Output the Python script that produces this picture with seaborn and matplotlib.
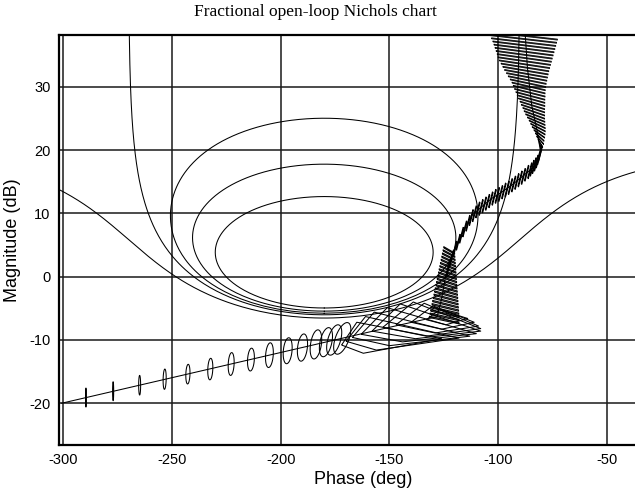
import numpy as np
import pandas as pd
import matplotlib
matplotlib.use("Agg")
import matplotlib.pyplot as plt
import seaborn as sns
from matplotlib.collections import LineCollection

# ---------------- data ----------------
# closed-loop magnitude contours of the Nichols grid (dB)
grid_m_db = [2.3, 1.2, 0.5, 0.0, -1.0]

# nominal open-loop locus (phase deg, magnitude dB)
nom_phase = [-87.5, -86.5, -84.5, -82.0, -80.6, -81.4, -84.4, -89.0, -93.6, -98.2,
             -102.8, -107.4, -112.0, -115.0, -119.6, -122.7, -124.2, -126.0, -128.0,
             -150.0, -300.8]
nom_mag = [38.2, 33.0, 27.0, 23.0, 20.0, 18.4, 17.1, 15.8, 14.5, 13.4,
           12.4, 11.1, 9.7, 7.9, 4.7, 2.1, 0.0, -3.5, -6.3,
           -8.0, -20.0]

# high-frequency templates (ellipses): centre, full width (deg), full height (dB), shear (deg)
a_phase = [-289.6, -277.1, -264.9, -253.4, -242.7, -232.4, -222.8, -213.7, -205.2,
           -196.8, -190.0, -183.8, -179.2, -175.4, -171.7]
a_mag = [-19.1, -18.1, -17.15, -16.2, -15.4, -14.6, -13.8, -13.1, -12.4,
         -11.7, -11.2, -10.7, -10.35, -10.0, -9.75]
a_width = [0.3, 0.5, 0.9, 1.4, 1.9, 2.3, 2.7, 3.1, 3.5, 4.0, 4.5, 5.0, 5.5, 6.0, 6.5]
a_height = [3.0, 3.0, 3.1, 3.2, 3.1, 3.4, 3.6, 3.6, 3.9, 4.1, 4.3, 4.6, 4.6, 4.8, 5.0]
a_shear = [0.0, 0.0, 0.0, 0.2, 0.3, 0.4, 0.5, 0.6, 0.8, 1.0, 1.3, 1.8, 2.5, 3.5, 4.5]

# wide templates (quadrilaterals): left tip, top, right tip, bottom
w_left_p = [-133, -140, -147, -153, -158, -163, -167, -170, -172]
w_left_m = [-6.8, -7.2, -7.6, -8.0, -8.6, -9.1, -9.6, -10.2, -10.8]
w_top_p = [-127, -130, -134, -139, -145, -151, -157, -161, -165]
w_top_m = [-5.2, -4.6, -4.2, -4.0, -4.3, -4.9, -5.6, -6.3, -7.2]
w_right_p = [-114, -111, -109, -108, -108, -110, -113, -118, -126]
w_right_m = [-6.6, -7.2, -7.8, -8.2, -8.6, -9.0, -9.4, -9.7, -9.8]
w_bot_p = [-124, -126, -129, -133, -138, -144, -150, -156, -162]
w_bot_m = [-7.6, -8.3, -8.9, -9.4, -9.8, -10.3, -10.9, -11.6, -12.1]

# column of horizontal slivers (mag, left phase, right phase)
col_mag = [4.0, 3.5, 3.0, 2.5, 2.0, 1.5, 1.0, 0.5, 0.0, -0.5, -1.0, -1.5, -2.0, -2.5,
           -3.0, -3.5, -4.0, -4.5, -5.0, -5.5, -6.0, -6.5, -7.0]
col_left = [-125.0, -125.3, -125.6, -125.9, -126.2, -126.5, -126.8, -127.1, -127.4,
            -127.7, -128.0, -128.3, -128.6, -128.9, -129.2, -129.5, -129.8, -130.1,
            -130.4, -130.7, -131.0, -131.3, -131.6]
col_right = [-120.0, -119.9, -119.8, -119.7, -119.6, -119.5, -119.4, -119.3, -119.2,
             -119.1, -119.0, -118.9, -118.8, -118.7, -118.6, -118.5, -118.4, -118.3,
             -118.2, -118.1, -118.0, -118.0, -118.0]

# diagonal band of short strokes (centre phase, centre mag)
b_phase = [-123.0, -121.5, -120.0, -118.5, -117.0, -115.5, -114.0, -112.5, -111.0,
           -109.5, -108.0, -106.5, -105.0, -103.5, -102.0, -100.5, -99.0, -97.5,
           -96.0, -94.5, -93.0, -91.5, -90.0, -88.5, -87.0, -85.5, -84.5, -83.5,
           -82.6, -81.8, -81.2, -80.8]
b_mag = [1.3, 3.0, 4.4, 5.5, 6.6, 7.6, 8.5, 9.4, 10.0, 10.6, 11.0, 11.4, 11.8, 12.2,
         12.6, 12.9, 13.2, 13.6, 13.9, 14.3, 14.7, 15.1, 15.5, 15.9, 16.4, 16.8, 17.2,
         17.6, 18.0, 18.5, 19.0, 19.5]

# low-frequency band of wide slivers (mag, left phase, right phase)
c_mag = [38.0, 37.5, 37.0, 36.5, 36.0, 35.5, 35.0, 34.5, 34.0, 33.5, 33.0, 32.5, 32.0,
         31.5, 31.0, 30.5, 30.0, 29.5, 29.0, 28.5, 28.0, 27.5, 27.0, 26.5, 26.0, 25.5,
         25.0, 24.5, 24.0, 23.5, 23.0, 22.5, 22.0, 21.5, 21.0, 20.5]
c_left = [-104.0, -103.5, -103.0, -102.4, -101.9, -101.4, -100.9, -100.4, -100.0, -99.4,
          -98.6, -97.8, -97.0, -96.1, -95.3, -94.4, -93.6, -93.0, -92.4, -91.8, -91.2,
          -90.6, -89.9, -89.3, -88.6, -88.0, -87.3, -86.5, -85.7, -85.0, -84.3, -83.5,
          -82.8, -82.2, -81.6, -81.1]
c_right = [-72.7, -73.1, -73.5, -73.9, -74.3, -74.7, -75.1, -75.5, -75.9, -76.3, -76.7,
           -77.0, -77.3, -77.6, -77.9, -78.1, -78.3, -78.4, -78.4, -78.5, -78.5, -78.5,
           -78.6, -78.6, -78.6, -78.6, -78.5, -78.4, -78.3, -78.3, -78.4, -78.6, -78.9,
           -79.1, -79.5, -80.0]

x_ticks = [-300, -250, -200, -150, -100, -50]
y_ticks = [-20, -10, 0, 10, 20, 30]

# ---------------- figure ----------------
sns.set_theme(style="white")
plt.rcParams['font.family'] = ['Liberation Sans', 'DejaVu Sans']

fig = plt.figure(figsize=(6.35, 4.95), dpi=100)
ax = fig.add_axes([59 / 635, 50 / 495, (667 - 59) / 635, 410 / 495])
ax.set_xlim(-302, -22.3)
ax.set_ylim(-26.6, 38.2)

LW = 0.75
K = "black"

# Nichols grid contours
def nichols_contour(m_db):
    M = 10 ** (m_db / 20.0)
    if abs(M - 1.0) < 1e-9:
        y = np.concatenate([-np.logspace(3, -3, 400), np.logspace(-3, 3, 400)])
        G = -0.5 + 1j * y
    elif M > 1:
        c = -M ** 2 / (M ** 2 - 1)
        R = M / (M ** 2 - 1)
        th = np.linspace(0, 2 * np.pi, 800)
        G = c + R * np.exp(1j * th)
    else:
        c = M ** 2 / (1 - M ** 2)
        R = M / (1 - M ** 2)
        th = np.linspace(1e-4, 2 * np.pi - 1e-4, 1200)
        G = c + R * np.exp(1j * th)
    ph = np.degrees(np.angle(-G)) - 180.0
    mg = 20 * np.log10(np.abs(G))
    return ph, mg

for m_db in grid_m_db:
    ph, mg = nichols_contour(m_db)
    ax.plot(ph, mg, color=K, lw=LW, zorder=3)

# templates
segs = []
t = np.linspace(0, 2 * np.pi, 80)
for cp, cm, w, h, s in zip(a_phase, a_mag, a_width, a_height, a_shear):
    p = cp + w / 2 * np.cos(t) + s / 2 * np.sin(t)
    m = cm + h / 2 * np.sin(t)
    segs.append(np.column_stack([p, m]))

for i in range(len(w_left_p)):
    poly = np.array([[w_left_p[i], w_left_m[i]], [w_top_p[i], w_top_m[i]],
                     [w_right_p[i], w_right_m[i]], [w_bot_p[i], w_bot_m[i]],
                     [w_left_p[i], w_left_m[i]]])
    segs.append(poly)

# thin sliver templates drawn as narrow closed loops
for m, l, r in zip(col_mag, col_left, col_right):
    segs.append(np.array([[l, m + 0.55], [r, m - 0.45], [r, m - 0.25],
                          [l, m + 0.75], [l, m + 0.55]]))

for p, m in zip(b_phase, b_mag):
    segs.append(np.array([[p - 0.9, m - 1.2], [p + 0.9, m + 1.2],
                          [p + 1.2, m + 1.1], [p - 0.6, m - 1.3], [p - 0.9, m - 1.2]]))

ax.add_collection(LineCollection(segs, colors=K, linewidths=LW, zorder=4))

c_segs = []
for m, l, r in zip(c_mag, c_left, c_right):
    c_segs.append(np.array([[l, m + 0.6], [r, m - 0.6], [r, m - 0.45],
                            [l, m + 0.75], [l, m + 0.6]]))
ax.add_collection(LineCollection(c_segs, colors=K, linewidths=0.6, zorder=4))

# nominal locus
df = pd.DataFrame({"phase": nom_phase, "mag": nom_mag})
sns.lineplot(data=df, x="phase", y="mag", sort=False, estimator=None,
             color=K, lw=LW, ax=ax, zorder=5)

# axes styling
ax.set_xticks(x_ticks)
ax.set_yticks(y_ticks)
ax.set_xticklabels([str(v) for v in x_ticks])
ax.set_yticklabels([str(v) for v in y_ticks])
ax.grid(True, color="#1a1a1a", lw=1.1)
ax.set_axisbelow(True)
for side in ["left", "bottom", "top", "right"]:
    ax.spines[side].set_color(K)
    ax.spines[side].set_linewidth(1.6)
ax.tick_params(axis="both", length=0, pad=6, labelsize=10.5, colors=K)
ax.set_xlabel("Phase (deg)", fontsize=13, labelpad=3, color=K)
ax.set_ylabel("Magnitude (dB)", fontsize=13, labelpad=6, color=K)
fig.text(0.497, 0.975, "Fractional open-loop Nichols chart", ha="center", va="center",
         family=["Liberation Serif", "DejaVu Serif"], fontsize=12.5, color=K)

fig.savefig("out.png", dpi=100)
